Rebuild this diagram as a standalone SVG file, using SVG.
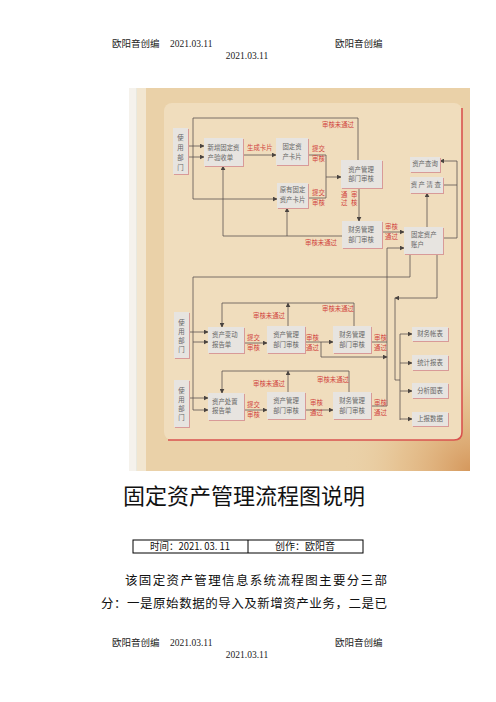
<svg xmlns="http://www.w3.org/2000/svg" width="496" height="702" viewBox="0 0 496 702">
<defs>
<style>
.hd{font-family:"Liberation Serif","Noto Sans CJK SC",serif;font-size:9.5px;fill:#222}
.t{font-family:"Noto Sans CJK SC",sans-serif;font-size:6.4px;fill:#666}
.r{font-family:"Noto Sans CJK SC",sans-serif;font-size:6.4px;fill:#d0443e}
.ln{fill:none;stroke:#5a5450;stroke-width:0.8}
.arr{fill:none;stroke:#5a5450;stroke-width:0.8;marker-end:url(#ah)}
.bx{fill:#e7e4e0}
.sh{fill:#d89a98}
.body{font-family:"Noto Sans CJK SC",sans-serif;fill:#111}
</style>
<marker id="ah" viewBox="0 0 8 8" refX="7" refY="4" markerWidth="5" markerHeight="5" orient="auto" markerUnits="userSpaceOnUse">
<path d="M0,0 L8,4 L0,8 Z" fill="#4a4440"/>
</marker>
<radialGradient id="glow" cx="472" cy="472" r="130" gradientUnits="userSpaceOnUse">
<stop offset="0" stop-color="#d4965a"/>
<stop offset="0.55" stop-color="#e3b883" stop-opacity="0.6"/>
<stop offset="1" stop-color="#ead1a8" stop-opacity="0"/>
</radialGradient>
</defs>
<rect width="496" height="702" fill="#ffffff"/>
<text class="hd" x="112" y="46.5">欧阳音创编</text>
<text class="hd" x="170" y="46.5">2021.03.11</text>
<text class="hd" x="335" y="46.5">欧阳音创编</text>
<text class="hd" x="247" y="58.5" text-anchor="middle">2021.03.11</text>
<g id="scan">
<rect x="129" y="88" width="8" height="383" fill="#f5f2ec"/>
<line x1="137" y1="88" x2="137" y2="471" stroke="#d6dccb" stroke-width="0.8"/>
<rect x="137" y="88" width="333" height="383" fill="#ead1a8"/>
<rect x="137" y="88" width="333" height="383" fill="url(#glow)"/>
<rect x="137" y="88" width="9" height="383" fill="#f2e6d0"/>
<rect x="164" y="103" width="298" height="337" rx="8" fill="#f0ddbd"/>
<path d="M462,108 V432 Q462,440 454,440 H168" fill="none" stroke="#d9534f" stroke-width="1.6"/>
</g>
<g id="connectors">
<path class="arr" d="M188,146 H204"/>
<path class="arr" d="M188,157 H204"/>
<path class="ln" d="M358,160 V118 H193 V199"/>
<path class="arr" d="M193,199 H277"/>
<path class="arr" d="M243,155 H276"/>
<path class="ln" d="M308,155 H326 V198 H308"/>
<path class="arr" d="M326,177 H341"/>
<path class="arr" d="M359,188 V221"/>
<path class="arr" d="M382,232 H404"/>
<path class="ln" d="M342,236 H223"/>
<path class="arr" d="M223,236 V166"/>
<path class="arr" d="M287,236 V208"/>
<path class="arr" d="M427,227 V193"/>
<path class="arr" d="M443,238 H457 V161 H440"/>
<path class="ln" d="M443,185 H457"/>
<path class="arr" d="M387,406 V248 H404"/>
<path class="ln" d="M410,254 V277 H193 V410"/>
<path class="arr" d="M189,332 H208"/>
<path class="arr" d="M193,342 H208"/>
<path class="arr" d="M189,398 H208"/>
<path class="arr" d="M193,410 H208"/>
<path class="arr" d="M437,254 V298 H395"/>
<path class="ln" d="M395,298 V380 H400"/>
<path class="ln" d="M400,334 V420"/>
<path class="arr" d="M400,334 H412"/>
<path class="arr" d="M400,363 H412"/>
<path class="arr" d="M400,391 H412"/>
<path class="arr" d="M400,419 H412"/>
<path class="arr" d="M244,343 H267"/>
<path class="arr" d="M305,342 H333"/>
<path class="arr" d="M321,342 V357 H387"/>
<path class="arr" d="M288,326 V303"/>
<path class="ln" d="M222,303 H354 V326"/>
<path class="arr" d="M222,303 V327"/>
<path class="ln" d="M371,342 H387"/>
<path class="arr" d="M244,410 H267"/>
<path class="arr" d="M305,410 H333"/>
<path class="arr" d="M288,392 V371"/>
<path class="ln" d="M222,371 H349 V392"/>
<path class="arr" d="M222,371 V393"/>
<path class="ln" d="M371,406 H387"/>
</g>
<g id="labels">
<text class="r" x="247" y="150.3">生成卡片</text>
<text class="r" x="322" y="127.3">审核未通过</text>
<text class="r" x="312" y="151.3">提交</text>
<text class="r" x="312" y="161.3">审核</text>
<text class="r" x="312" y="195.3">提交</text>
<text class="r" x="312" y="205.3">审核</text>
<text class="r" x="341" y="197.3">通</text>
<text class="r" x="341" y="205.3">过</text>
<text class="r" x="351" y="197.3">审</text>
<text class="r" x="351" y="205.3">核</text>
<text class="r" x="305" y="245.3">审核未通过</text>
<text class="r" x="385" y="229.3">审核</text>
<text class="r" x="385" y="239.3">通过</text>
<text class="r" x="253" y="318.3">审核未通过</text>
<text class="r" x="247" y="340.3">提交</text>
<text class="r" x="247" y="350.3">审核</text>
<text class="r" x="306" y="340.3">审核</text>
<text class="r" x="306" y="350.3">通过</text>
<text class="r" x="322" y="311.3">审核未通过</text>
<text class="r" x="374" y="340.3">审核</text>
<text class="r" x="374" y="350.3">通过</text>
<text class="r" x="253" y="386.3">审核未通过</text>
<text class="r" x="317" y="382.3">审核未通过</text>
<text class="r" x="247" y="407.3">提交</text>
<text class="r" x="247" y="417.3">审核</text>
<text class="r" x="310" y="405.3">审核</text>
<text class="r" x="310" y="415.3">通过</text>
<text class="r" x="374" y="405.3">审核</text>
<text class="r" x="374" y="415.3">通过</text>
</g>
<g id="n-user1">
<rect class="sh" x="174" y="129" width="15" height="46"/><rect class="bx" x="173" y="128" width="15" height="46"/>
<text class="t" text-anchor="middle" x="180.5" y="140.3">使</text>
<text class="t" text-anchor="middle" x="180.5" y="150.3">用</text>
<text class="t" text-anchor="middle" x="180.5" y="160.3">部</text>
<text class="t" text-anchor="middle" x="180.5" y="170.3">门</text>
</g>
<g id="n-new">
<rect class="sh" x="205" y="139" width="39" height="28"/><rect class="bx" x="204" y="138" width="39" height="28"/>
<text class="t" x="207.5" y="150.3">新增固定资</text>
<text class="t" x="207.5" y="160.3">产验收单</text>
</g>
<g id="n-card">
<rect class="sh" x="277" y="139" width="32" height="27"/><rect class="bx" x="276" y="138" width="32" height="27"/>
<text class="t" text-anchor="middle" x="292" y="149.3">固定资</text>
<text class="t" text-anchor="middle" x="292" y="159.3">产卡片</text>
</g>
<g id="n-oldcard">
<rect class="sh" x="278" y="184" width="31" height="25"/><rect class="bx" x="277" y="183" width="31" height="25"/>
<text class="t" text-anchor="middle" x="292.5" y="192.3">原有固定</text>
<text class="t" text-anchor="middle" x="292.5" y="202.3">资产卡片</text>
</g>
<g id="n-am1">
<rect class="sh" x="342" y="161" width="41" height="28"/><rect class="bx" x="341" y="160" width="41" height="28"/>
<text class="t" text-anchor="middle" x="361" y="172.3">资产管理</text>
<text class="t" text-anchor="middle" x="361" y="181.3">部门审核</text>
</g>
<g id="n-fm1">
<rect class="sh" x="343" y="222" width="40" height="27"/><rect class="bx" x="342" y="221" width="40" height="27"/>
<text class="t" text-anchor="middle" x="361" y="232.3">财务管理</text>
<text class="t" text-anchor="middle" x="361" y="242.3">部门审核</text>
</g>
<g id="n-account">
<rect class="sh" x="405" y="228" width="39" height="27"/><rect class="bx" x="404" y="227" width="39" height="27"/>
<text class="t" x="411" y="237.3">固定资产</text>
<text class="t" x="411" y="247.3">账户</text>
</g>
<g id="n-query">
<rect class="sh" x="411" y="158" width="30" height="15"/><rect class="bx" x="410" y="157" width="30" height="15"/>
<text class="t" text-anchor="middle" x="425" y="166.3">资产查询</text>
</g>
<g id="n-check">
<rect class="sh" x="411" y="178" width="33" height="16"/><rect class="bx" x="410" y="177" width="33" height="16"/>
<text class="t" text-anchor="middle" x="426.5" y="187.3" letter-spacing="1.5">资产清查</text>
</g>
<g id="n-user2">
<rect class="sh" x="175" y="313" width="15" height="46"/><rect class="bx" x="174" y="312" width="15" height="46"/>
<text class="t" text-anchor="middle" x="181.5" y="325.3">使</text>
<text class="t" text-anchor="middle" x="181.5" y="334.3">用</text>
<text class="t" text-anchor="middle" x="181.5" y="343.3">部</text>
<text class="t" text-anchor="middle" x="181.5" y="352.3">门</text>
</g>
<g id="n-user3">
<rect class="sh" x="175" y="381" width="15" height="47"/><rect class="bx" x="174" y="380" width="15" height="47"/>
<text class="t" text-anchor="middle" x="181.5" y="393.3">使</text>
<text class="t" text-anchor="middle" x="181.5" y="402.3">用</text>
<text class="t" text-anchor="middle" x="181.5" y="411.3">部</text>
<text class="t" text-anchor="middle" x="181.5" y="420.3">门</text>
</g>
<g id="n-change">
<rect class="sh" x="209" y="328" width="36" height="26"/><rect class="bx" x="208" y="327" width="36" height="26"/>
<text class="t" x="212" y="337.3">资产变动</text>
<text class="t" x="212" y="347.3">报告单</text>
</g>
<g id="n-am2">
<rect class="sh" x="268" y="327" width="38" height="27"/><rect class="bx" x="267" y="326" width="38" height="27"/>
<text class="t" text-anchor="middle" x="286" y="337.3">资产管理</text>
<text class="t" text-anchor="middle" x="286" y="347.3">部门审核</text>
</g>
<g id="n-fm2">
<rect class="sh" x="334" y="327" width="38" height="27"/><rect class="bx" x="333" y="326" width="38" height="27"/>
<text class="t" text-anchor="middle" x="352" y="337.3">财务管理</text>
<text class="t" text-anchor="middle" x="352" y="347.3">部门审核</text>
</g>
<g id="n-dispose">
<rect class="sh" x="209" y="394" width="36" height="27"/><rect class="bx" x="208" y="393" width="36" height="27"/>
<text class="t" x="212" y="404.3">资产处置</text>
<text class="t" x="212" y="413.3">报告单</text>
</g>
<g id="n-am3">
<rect class="sh" x="268" y="393" width="38" height="27"/><rect class="bx" x="267" y="392" width="38" height="27"/>
<text class="t" text-anchor="middle" x="286" y="403.3">资产管理</text>
<text class="t" text-anchor="middle" x="286" y="413.3">部门审核</text>
</g>
<g id="n-fm3">
<rect class="sh" x="334" y="393" width="38" height="27"/><rect class="bx" x="333" y="392" width="38" height="27"/>
<text class="t" text-anchor="middle" x="352" y="403.3">财务管理</text>
<text class="t" text-anchor="middle" x="352" y="413.3">部门审核</text>
</g>
<g id="n-r1">
<rect class="sh" x="413" y="328" width="36" height="14"/><rect class="bx" x="412" y="327" width="36" height="14"/>
<text class="t" text-anchor="middle" x="430" y="336.3">财务帐表</text>
</g>
<g id="n-r2">
<rect class="sh" x="413" y="356" width="36" height="15"/><rect class="bx" x="412" y="355" width="36" height="15"/>
<text class="t" text-anchor="middle" x="430" y="364.8">统计报表</text>
</g>
<g id="n-r3">
<rect class="sh" x="413" y="384" width="36" height="15"/><rect class="bx" x="412" y="383" width="36" height="15"/>
<text class="t" text-anchor="middle" x="430" y="392.8">分析图表</text>
</g>
<g id="n-r4">
<rect class="sh" x="413" y="413" width="36" height="14"/><rect class="bx" x="412" y="412" width="36" height="14"/>
<text class="t" text-anchor="middle" x="430" y="421.3">上报数据</text>
</g>
<text class="body" x="123" y="503.5" font-size="22" textLength="242" lengthAdjust="spacingAndGlyphs">固定资产管理流程图说明</text>
<rect x="133" y="540" width="230" height="13" fill="none" stroke="#000" stroke-width="1"/>
<line x1="248" y1="540" x2="248" y2="553" stroke="#000" stroke-width="1"/>
<text class="body" x="150" y="550.3" font-size="10" textLength="80" lengthAdjust="spacingAndGlyphs">时间：2021. 03. 11</text>
<text class="body" x="275" y="550.3" font-size="10" textLength="60" lengthAdjust="spacingAndGlyphs">创作：欧阳音</text>
<text class="body" x="125" y="584.5" font-size="12.5" textLength="262" lengthAdjust="spacing">该固定资产管理信息系统流程图主要分三部</text>
<text class="body" x="101" y="607.5" font-size="12.5" textLength="286" lengthAdjust="spacing">分：一是原始数据的导入及新增资产业务，二是已</text>
<text class="hd" x="112" y="645.5">欧阳音创编</text>
<text class="hd" x="170" y="645.5">2021.03.11</text>
<text class="hd" x="335" y="645.5">欧阳音创编</text>
<text class="hd" x="247" y="657.5" text-anchor="middle">2021.03.11</text>
</svg>
